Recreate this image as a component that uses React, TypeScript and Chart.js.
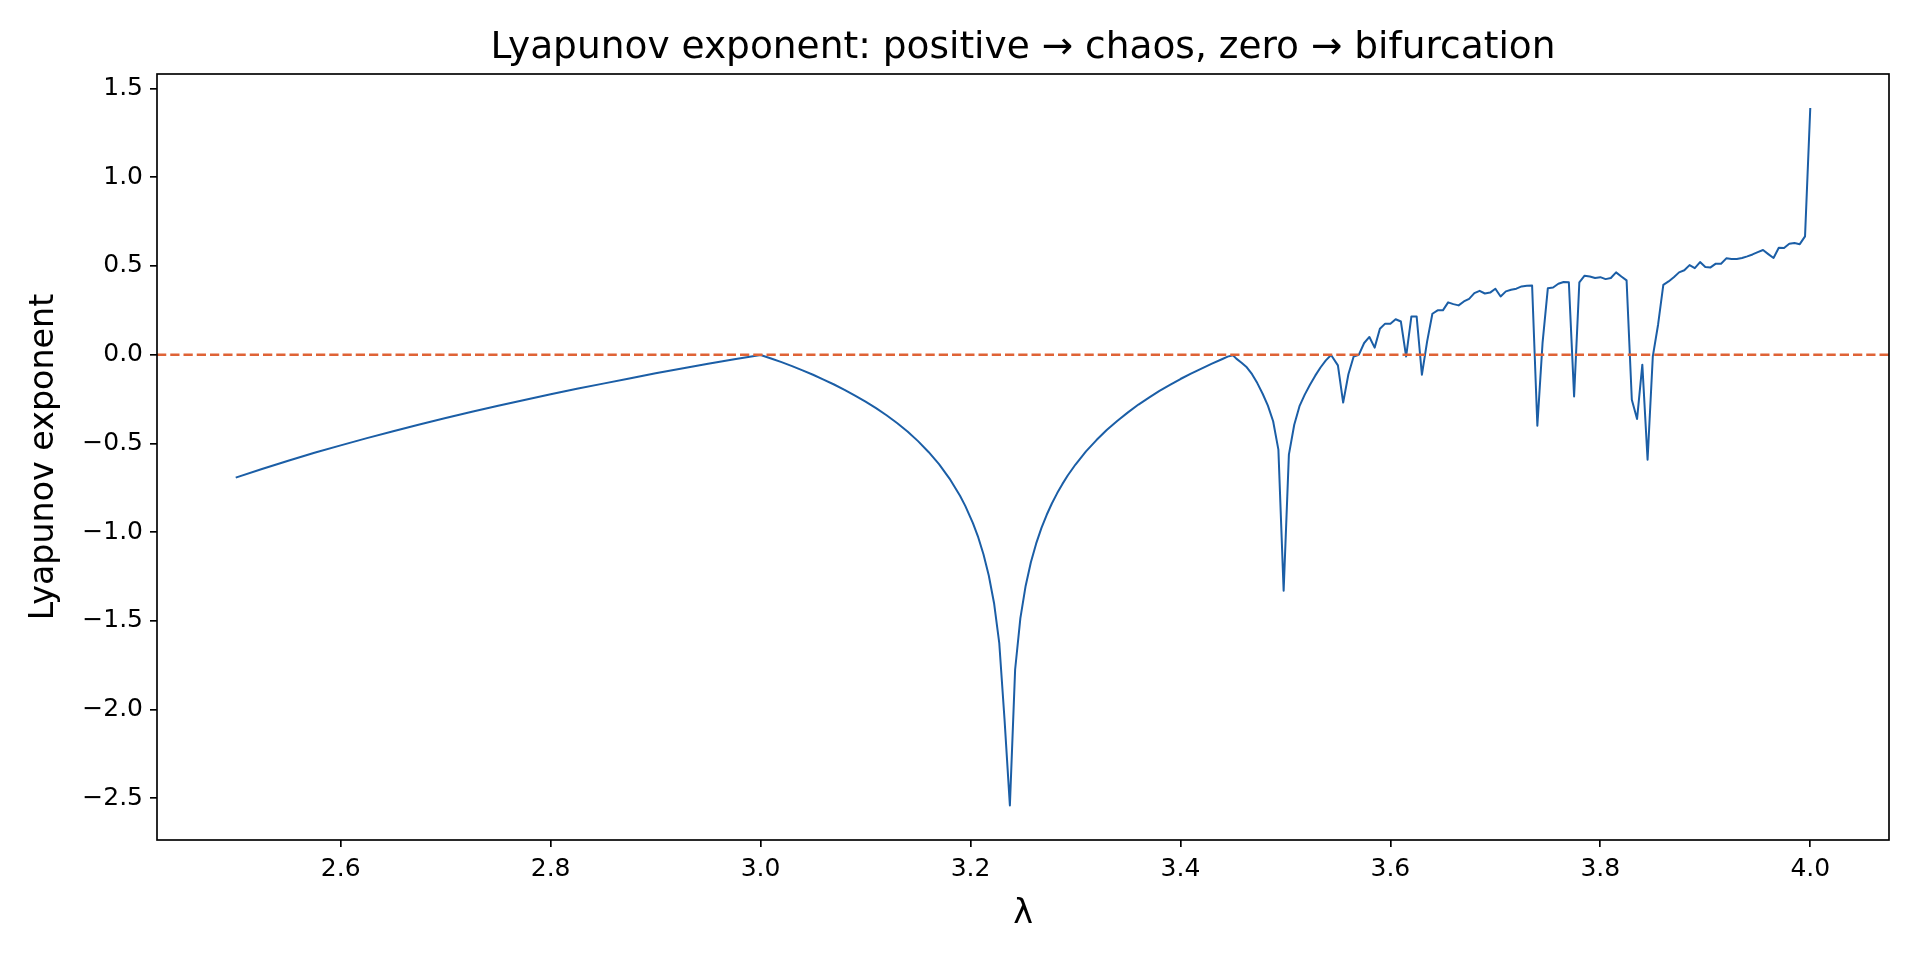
import { useEffect, useRef } from "react"
import { Chart, registerables } from "chart.js"

Chart.register(...registerables)

// lambda (growth rate) samples and the Lyapunov exponent read at each of them
const lambdaValues = [
  2.5, 2.525, 2.55, 2.575, 2.6, 2.625, 2.65, 2.675, 2.7, 2.725, 2.75, 2.775, 2.8, 2.825, 2.85, 2.875, 2.9, 2.925, 2.95,
  2.975, 3.0,
  3.01, 3.02, 3.03, 3.04, 3.05, 3.06, 3.07, 3.08, 3.09, 3.1, 3.11, 3.12, 3.13, 3.14, 3.15, 3.16, 3.17, 3.18, 3.19, 3.195,
  3.2023, 3.2074, 3.2124, 3.2174, 3.2224, 3.2274, 3.2324, 3.2375, 3.2425, 3.2475, 3.2525, 3.2575, 3.2625, 3.2676, 3.2726,
  3.2776, 3.2826, 3.2876, 3.2926,
  3.3, 3.31, 3.32, 3.33, 3.34, 3.35, 3.36, 3.37, 3.38, 3.39, 3.4, 3.41, 3.42, 3.43, 3.44, 3.445, 3.45,
  3.4532, 3.4582, 3.4632, 3.4682, 3.4732, 3.4783, 3.4833, 3.4883, 3.4933, 3.4983, 3.5033, 3.5084, 3.5134, 3.5184, 3.5234,
  3.5284, 3.5334, 3.5385, 3.5435,
  3.55, 3.555, 3.56, 3.565, 3.57, 3.575, 3.58, 3.585, 3.59, 3.595, 3.6, 3.605, 3.61, 3.615, 3.62, 3.625, 3.63,
  3.635, 3.64, 3.645, 3.65, 3.655, 3.66, 3.665, 3.67, 3.675, 3.68, 3.685, 3.69, 3.695, 3.7, 3.705, 3.71, 3.715, 3.72,
  3.725, 3.73, 3.735, 3.74, 3.745, 3.75, 3.755, 3.76, 3.765, 3.77, 3.775, 3.78, 3.785, 3.79, 3.795, 3.8, 3.805, 3.81,
  3.815, 3.82, 3.825, 3.83, 3.835, 3.84, 3.845, 3.85, 3.855, 3.86, 3.865, 3.87, 3.875, 3.88, 3.885, 3.89, 3.895, 3.9,
  3.905, 3.91, 3.915, 3.92, 3.925, 3.93, 3.935, 3.94, 3.945, 3.95, 3.955, 3.96, 3.965, 3.97, 3.975, 3.98, 3.985, 3.99,
  3.995, 4.0,
]

const exponentValues = [
  -0.693, -0.644, -0.598, -0.553, -0.511, -0.47, -0.431, -0.393, -0.357, -0.322, -0.288, -0.255, -0.223, -0.192, -0.163,
  -0.134, -0.105, -0.078, -0.051, -0.025, -0.002,
  -0.021, -0.042, -0.064, -0.088, -0.113, -0.14, -0.168, -0.198, -0.23, -0.264, -0.301, -0.341, -0.385, -0.433, -0.487,
  -0.548, -0.617, -0.698, -0.795, -0.852,
  -0.949, -1.03, -1.126, -1.244, -1.399, -1.626, -2.055, -2.54, -1.774, -1.485, -1.303, -1.17, -1.065, -0.976, -0.902,
  -0.837, -0.78, -0.728, -0.681,
  -0.619, -0.545, -0.481, -0.423, -0.372, -0.325, -0.281, -0.242, -0.204, -0.17, -0.137, -0.107, -0.078, -0.05, -0.024,
  -0.011, -0.003,
  -0.022, -0.045, -0.071, -0.11, -0.16, -0.22, -0.287, -0.375, -0.535, -1.33, -0.563, -0.395, -0.29, -0.225, -0.169,
  -0.118, -0.072, -0.032, -0.002,
  -0.06, -0.27, -0.11, -0.01, 0.0, 0.066, 0.1, 0.04, 0.146, 0.175, 0.175, 0.2, 0.187, -0.01, 0.216, 0.216, -0.113,
  0.075, 0.231, 0.25, 0.25, 0.295, 0.285, 0.278, 0.3, 0.315, 0.347, 0.36, 0.345, 0.35, 0.372, 0.328, 0.357, 0.366, 0.372,
  0.385, 0.389, 0.39, -0.4, 0.07, 0.375, 0.379, 0.4, 0.41, 0.408, -0.235, 0.408, 0.445, 0.441, 0.432, 0.437, 0.426, 0.432,
  0.464, 0.441, 0.419, -0.254, -0.362, -0.056, -0.592, -0.009, 0.169, 0.394, 0.413, 0.437, 0.464, 0.476, 0.505, 0.488,
  0.522, 0.494,
  0.492, 0.513, 0.513, 0.543, 0.539, 0.539, 0.545, 0.554, 0.565, 0.578, 0.59, 0.567, 0.545, 0.603, 0.601, 0.625, 0.629,
  0.623, 0.667, 1.39,
]

const xTicks = [2.6, 2.8, 3.0, 3.2, 3.4, 3.6, 3.8, 4.0]
const yTicks = [-2.5, -2.0, -1.5, -1.0, -0.5, 0.0, 0.5, 1.0, 1.5]
const xLimits = [2.425, 4.075]
const yLimits = [-2.735, 1.582]
const zeroLevel = 0

const chartTitle = "Lyapunov exponent: positive → chaos, zero → bifurcation"
const xLabel = "λ"
const yLabel = "Lyapunov exponent"

const FONT = "'DejaVu Sans', sans-serif"

const formatTick = (v: number) => v.toFixed(1).replace("-", "\u2212")

// title, axis labels and the box round the plot
const framePlugin = {
  id: "frame",
  afterDraw(chart: any) {
    const { ctx, chartArea } = chart
    const { left, right, top, bottom } = chartArea
    ctx.save()
    ctx.strokeStyle = "#000"
    ctx.lineWidth = 1.67
    ctx.strokeRect(left, top, right - left, bottom - top)

    ctx.fillStyle = "#000"
    ctx.textAlign = "center"
    ctx.textBaseline = "alphabetic"
    ctx.font = `37.5px ${FONT}`
    ctx.fillText(chartTitle, (left + right) / 2, top - 16)

    ctx.font = `33.3px ${FONT}`
    ctx.textBaseline = "middle"
    ctx.fillText(xLabel, (left + right) / 2, 914)

    ctx.translate(44, (top + bottom) / 2)
    ctx.rotate(-Math.PI / 2)
    ctx.fillText(yLabel, 0, 0)
    ctx.restore()
  },
}

export default function App() {
  const chartRef = useRef<HTMLCanvasElement>(null)
  const chartInstance = useRef<Chart | null>(null)

  useEffect(() => {
    if (!chartRef.current) return

    if (chartInstance.current) {
      chartInstance.current.destroy()
    }

    const points = lambdaValues.map((x, i) => ({ x, y: exponentValues[i] }))
    const zeroLine = xLimits.map((x) => ({ x, y: zeroLevel }))

    const tickFont = { family: FONT, size: 25 }
    const grid = {
      display: true,
      drawOnChartArea: false,
      drawTicks: true,
      tickLength: 7,
      color: "#000",
      lineWidth: 1.67,
    }

    chartInstance.current = new Chart(chartRef.current, {
      type: "line",
      data: {
        datasets: [
          {
            data: zeroLine,
            borderColor: "#df6336",
            borderWidth: 2.5,
            borderDash: [9.25, 4],
            pointRadius: 0,
          },
          {
            data: points,
            borderColor: "#1b5ea6",
            borderWidth: 2,
            borderJoinStyle: "round",
            pointRadius: 0,
            tension: 0,
          },
        ],
      },
      options: {
        responsive: false,
        devicePixelRatio: 1,
        animation: false,
        events: [],
        layout: { padding: { left: 0, right: 31, top: 74, bottom: 0 } },
        plugins: {
          legend: { display: false },
          tooltip: { enabled: false },
          title: { display: false },
        },
        scales: {
          x: {
            type: "linear",
            min: xLimits[0],
            max: xLimits[1],
            afterBuildTicks: (scale: any) => {
              scale.ticks = xTicks.map((value) => ({ value }))
            },
            afterFit: (scale: any) => {
              scale.height = 120
            },
            ticks: {
              font: tickFont,
              color: "#000",
              padding: 7,
              maxRotation: 0,
              autoSkip: false,
              callback: (value: any) => formatTick(Number(value)),
            },
            grid,
            border: { display: false },
          },
          y: {
            type: "linear",
            min: yLimits[0],
            max: yLimits[1],
            afterBuildTicks: (scale: any) => {
              scale.ticks = yTicks.map((value) => ({ value }))
            },
            afterFit: (scale: any) => {
              scale.width = 157
            },
            ticks: {
              font: tickFont,
              color: "#000",
              padding: 7,
              autoSkip: false,
              callback: (value: any) => formatTick(Number(value)),
            },
            grid,
            border: { display: false },
          },
        },
      },
      plugins: [framePlugin],
    })

    return () => {
      if (chartInstance.current) {
        chartInstance.current.destroy()
        chartInstance.current = null
      }
    }
  }, [])

  return (
    <div style={{ position: "fixed", left: 0, top: 0, width: 1920, height: 960, background: "#fff" }}>
      <canvas ref={chartRef} width={1920} height={960} />
    </div>
  )
}
